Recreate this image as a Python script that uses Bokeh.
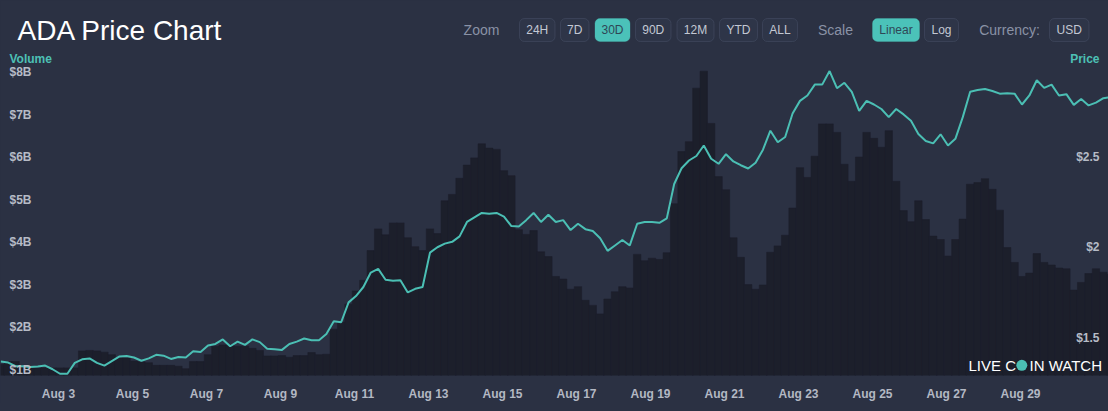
import numpy as np
from bokeh.plotting import figure
from bokeh.models import Range1d, FixedTicker, BoxAnnotation, GlobalInlineStyleSheet
from bokeh.core.properties import value
from bokeh.embed import file_html
from bokeh.resources import INLINE

# ---------------- data ----------------
# samples every 0.2 day starting Aug 1, ~10:34
price = [1.368,1.362,1.342,1.341,1.338,1.340,1.345,1.325,1.300,1.300,
         1.360,1.380,1.385,1.360,1.345,1.370,1.395,1.398,1.390,1.372,
         1.385,1.405,1.400,1.382,1.393,1.390,1.424,1.420,1.456,1.465,
         1.490,1.452,1.478,1.460,1.490,1.475,1.438,1.435,1.432,1.465,
         1.478,1.495,1.485,1.485,1.520,1.590,1.585,1.695,1.730,1.780,
         1.860,1.880,1.820,1.815,1.818,1.750,1.770,1.780,1.970,2.000,
         2.020,2.030,2.060,2.140,2.165,2.190,2.185,2.190,2.170,2.117,
         2.115,2.150,2.190,2.140,2.180,2.140,2.150,2.095,2.130,2.100,
         2.090,2.050,1.980,2.010,2.040,2.010,2.130,2.140,2.140,2.135,
         2.160,2.350,2.437,2.480,2.505,2.563,2.490,2.462,2.515,2.475,
         2.454,2.436,2.468,2.540,2.645,2.581,2.610,2.740,2.810,2.840,
         2.900,2.900,2.975,2.880,2.910,2.860,2.755,2.810,2.790,2.765,
         2.720,2.765,2.735,2.700,2.627,2.588,2.575,2.625,2.563,2.600,
         2.720,2.861,2.870,2.876,2.865,2.850,2.852,2.850,2.790,2.840,
         2.924,2.882,2.900,2.840,2.847,2.788,2.820,2.785,2.800,2.825,
         2.830]

volume_b = [1.12,1.19,1.19,1.04,1.04,1.04,1.04,1.04,1.04,1.04,
            1.04,1.44,1.45,1.44,1.41,1.35,1.27,1.27,1.20,1.18,
            1.16,1.10,1.10,1.10,1.08,1.02,1.19,1.19,1.35,1.55,
            1.58,1.58,1.55,1.55,1.50,1.45,1.32,1.32,1.33,1.29,
            1.33,1.33,1.40,1.35,1.36,1.95,2.12,2.54,2.85,3.10,
            3.80,4.31,4.17,4.45,4.45,4.10,3.89,3.80,4.31,4.20,
            4.97,5.12,5.50,5.81,5.98,6.31,6.21,6.18,5.68,5.56,
            4.29,4.18,4.27,3.77,3.66,3.19,3.13,2.89,2.95,2.63,
            2.51,2.31,2.66,2.83,2.95,2.92,3.71,3.56,3.62,3.59,
            3.75,4.90,6.13,6.36,7.62,8.02,6.79,5.54,5.23,4.10,
            3.64,3.00,2.89,2.99,3.76,3.91,4.16,4.80,5.75,5.52,
            6.02,6.78,6.78,6.58,5.83,5.43,6.00,6.58,6.44,6.23,
            6.62,5.43,4.74,4.48,4.97,4.53,4.14,4.06,3.67,4.06,
            4.54,5.36,5.40,5.49,5.24,4.75,3.87,3.52,3.19,3.27,
            3.73,3.52,3.46,3.39,3.37,2.87,3.05,3.26,3.37,3.29,
            3.24]

start_day = 1.44      # day of August of first sample
step_day = 0.2        # sample spacing (days)
days = [start_day + step_day * i for i in range(len(price))]

tick_days = [3, 5, 7, 9, 11, 13, 15, 17, 19, 21, 23, 25, 27, 29]
tick_labels = ["Aug %d" % d for d in tick_days]
vol_ticks = [8, 7, 6, 5, 4, 3, 2, 1]
vol_tick_labels = ["$8B", "$7B", "$6B", "$5B", "$4B", "$3B", "$2B", "$1B"]
price_ticks = [2.5, 2.0, 1.5]
price_tick_labels = ["$2.5", "$2", "$1.5"]

# ---------------- styling / layout ----------------
BG = "#2b3143"
VOLC = "#1c1f2b"
TEAL = "#4bbfb4"
BTN_TEAL = "#4bc2b9"
LBL = "#b6bbc6"
GREY = "#8a92a6"
FONT = "Liberation Sans"

W, H = 1108, 403
FRAME_BOTTOM = 381   # pixel row of the frame bottom (figure coordinates)

# figure-pixel -> data helpers
def X(px):
    return 3 + (px - 58) / 37.0

def Y(py):
    return 2 + (250.7 - py) / 183.6

def V(py):
    return 1 + (375 - py) / 43.19

p = figure(width=W, height=H,
           x_range=Range1d(X(0), X(W)),
           y_range=Range1d(Y(FRAME_BOTTOM), Y(0)),
           output_backend="svg", toolbar_location=None,
           y_axis_location=None,
           min_border_left=0, min_border_right=0, min_border_top=0,
           min_border_bottom=H - FRAME_BOTTOM,
           background_fill_color=BG, border_fill_color=BG,
           outline_line_color=None)
p.extra_y_ranges = {"vol": Range1d(V(FRAME_BOTTOM), V(0))}
p.grid.visible = False

p.stylesheets = [GlobalInlineStyleSheet(css="html, body { background-color: %s; }" % BG)]

# volume steps
p.vbar(x=days, width=step_day, bottom=0, top=volume_b, y_range_name="vol",
       fill_color=VOLC, line_color=VOLC, line_width=0.6)

# price line
p.line(days, price, line_color=TEAL, line_width=2)

# x axis
ax = p.xaxis[0]
ax.ticker = FixedTicker(ticks=tick_days)
ax.major_label_overrides = {d: l for d, l in zip(tick_days, tick_labels)}
ax.axis_line_color = None
ax.major_tick_line_color = None
ax.minor_tick_line_color = None
ax.major_label_text_font = FONT
ax.major_label_text_font_size = "12px"
ax.major_label_text_font_style = "bold"
ax.major_label_text_color = "#b3b8c3"
ax.major_label_standoff = 5

# left volume labels (inside plot)
p.text(x=[X(9)] * len(vol_ticks), y=vol_ticks, text=vol_tick_labels,
       y_range_name="vol", text_font=value(FONT), text_font_size="12px",
       text_font_style="bold", text_color=LBL, text_align="left",
       text_baseline="middle")
# right price labels
p.text(x=[X(1099)] * len(price_ticks), y=price_ticks, text=price_tick_labels,
       text_font=value(FONT), text_font_size="12px", text_font_style="bold",
       text_color=LBL, text_align="right", text_baseline="middle")

# axis titles
p.text(x=[X(9)], y=[Y(59.5)], text=["Volume"], text_font=value(FONT),
       text_font_size="12px", text_font_style="bold", text_color="#4dc0b5",
       text_align="left", text_baseline="middle")
p.text(x=[X(1099)], y=[Y(59.5)], text=["Price"], text_font=value(FONT),
       text_font_size="12px", text_font_style="bold", text_color="#4dc0b5",
       text_align="right", text_baseline="middle")

# title
p.text(x=[X(17)], y=[Y(30)], text=["ADA Price Chart"], text_font=value(FONT),
       text_font_size="28px", text_color="#ffffff", text_align="left",
       text_baseline="middle")

# header labels
p.text(x=[X(481), X(835), X(1009)], y=[Y(29.5)] * 3,
       text=["Zoom", "Scale", "Currency:"], text_font=value(FONT),
       text_font_size="14px", text_color=GREY, text_align="center",
       text_baseline="middle")

# buttons
btns = [("24H", 519, 554.5, False), ("7D", 560, 588.5, False),
        ("30D", 594.5, 629.5, True), ("90D", 635, 670.5, False),
        ("12M", 676.5, 713.5, False), ("YTD", 719, 757, False),
        ("ALL", 762, 797, False), ("Linear", 872, 919, True),
        ("Log", 924, 958, False), ("USD", 1049, 1088.5, False)]
for name, l, r, active in btns:
    box = BoxAnnotation(left=X(l), right=X(r), top=Y(18.3), bottom=Y(41.7),
                        fill_color=BTN_TEAL if active else "#2e3548",
                        fill_alpha=1.0,
                        line_color=BTN_TEAL if active else "#5e6780",
                        line_width=1, border_radius=5, level="underlay")
    p.add_layout(box)
p.text(x=[X((b[1] + b[2]) / 2) for b in btns], y=[Y(30)] * len(btns),
       text=[b[0] for b in btns], text_font=value(FONT), text_font_size="12px",
       text_color=["#2f4756" if b[3] else "#c3c8d3" for b in btns],
       text_align="center", text_baseline="middle")

# watermark
p.text(x=[X(1015.5)], y=[Y(370.7)], text=["LIVE C"], text_font=value(FONT),
       text_font_size="15px", text_color="#ffffff", text_align="right",
       text_baseline="middle")
p.scatter(x=[X(1021.3)], y=[Y(370.7)], marker="circle", size=11,
          fill_color=TEAL, line_color=None)
p.text(x=[X(1029)], y=[Y(370.7)], text=["IN WATCH"], text_font=value(FONT),
       text_font_size="15px", text_color="#ffffff", text_align="left",
       text_baseline="middle")

open("out.html", "w").write(file_html(p, INLINE))
